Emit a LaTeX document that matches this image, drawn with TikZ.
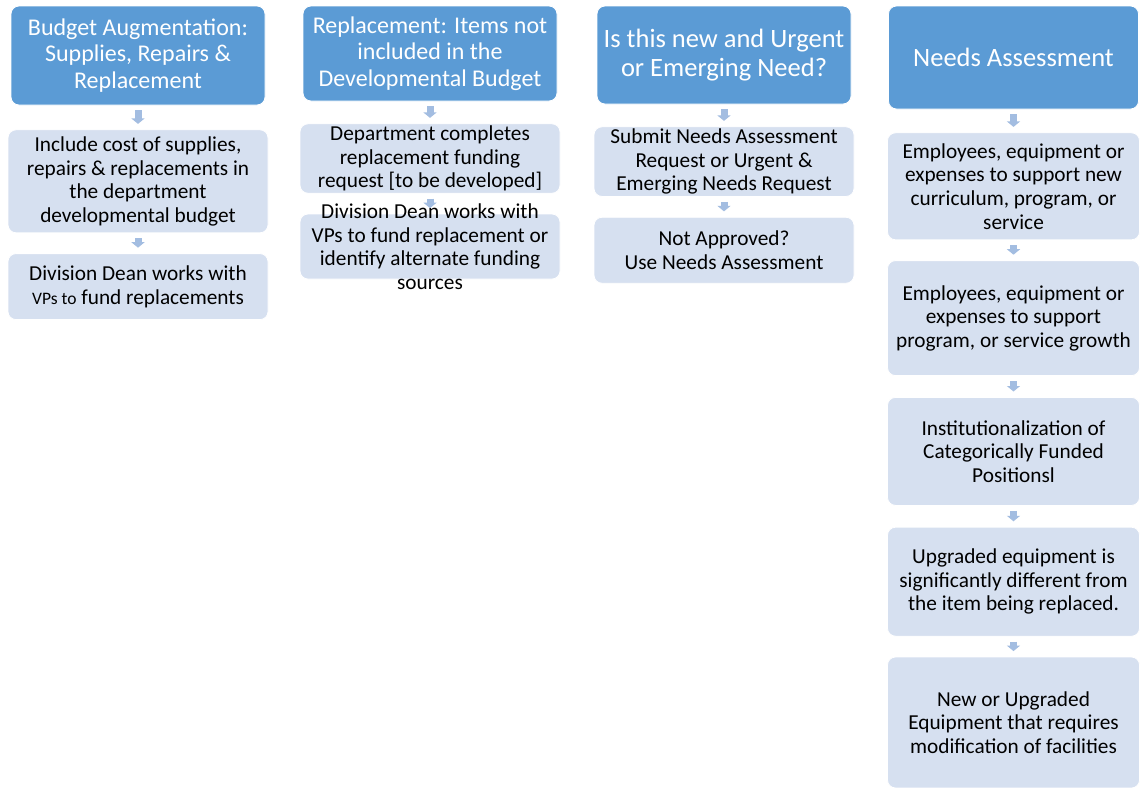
\documentclass[tikz,border=0pt]{standalone}
\usepackage{fontspec}
\setmainfont{Carlito}
\usetikzlibrary{positioning,arrows.meta}
\definecolor{HeadBlue}{RGB}{91,155,213}
\definecolor{ItemBlue}{RGB}{214,224,240}
\definecolor{ArrowBlue}{RGB}{163,189,225}
\newcommand\itemfont{\fontsize{21.3}{23.6}\selectfont}

\begin{document}
\begin{tikzpicture}[x=1pt, y=-1pt,
  every node/.style={align=center, inner sep=2pt},
  head/.style={draw=white, line width=0.8pt, fill=HeadBlue, text=white, rounded corners=8pt,
    minimum width=254pt, font=\fontsize{24}{26.5}\selectfont},
  bighead/.style={head, font=\fontsize{26.5}{29}\selectfont},
  item/.style={draw=white, line width=0.8pt, fill=ItemBlue, rounded corners=8pt,
    minimum width=260pt, font=\itemfont},
  flow/.style={-{Triangle[length=5.5pt,width=13pt]}, line width=7pt, ArrowBlue,
    shorten <=5pt, shorten >=5.5pt}]
  \path[use as bounding box, fill=white] (0,0) rectangle (1140,787);
  \clip (0,0) rectangle (1140,787);

  % budget augmentation
  \node[head, minimum height=99pt] (bud) at (138,55.5) {Budget Augmentation:\\ Supplies, Repairs \&\\ Replacement};
  \node[item, minimum height=103pt, below=24pt of bud] (bud1) {Include cost of supplies,\\ repairs \& replacements in\\ the department\\ developmental budget};
  \node[item, minimum height=66pt, below=20pt of bud1] (bud2) {Division Dean works with\\ {\fontsize{17.5}{20}\selectfont VPs to} fund replacements};

  % replacement outside the budget
  \node[head, minimum height=95pt] (rep) at (430,53.5) {Replacement: Items not\\ included in the\\ Developmental Budget};
  \node[item, minimum height=66pt, below=22pt of rep] (rep1) {Department completes\\ replacement funding\\ request [to be developed]};
  \node[item, minimum height=65pt, below=20pt of rep1,
    label={[font=\itemfont]center:Division Dean works with\\ VPs to fund replacement or\\ identify alternate funding\\ sources}] (rep2) {};

  % urgent and emerging needs
  \node[bighead, minimum height=98pt] (urg) at (724,55) {Is this new and Urgent\\ or Emerging Need?};
  \node[item, minimum height=66pt, below=22pt of urg] (urg1) {Submit Needs Assessment\\ Request or Urgent \&\\ Emerging Needs Request};
  \node[item, minimum height=66pt, below=20pt of urg1] (urg2) {Not Approved?\\ Use Needs Assessment};

  % needs assessment
  \node[bighead, minimum height=103pt, minimum width=250pt] (need) at (1013.5,57.5) {Needs Assessment};
  \node[item, minimum height=107pt, minimum width=252pt, below=23pt of need] (need1) {Employees, equipment or\\ expenses to support new\\ curriculum, program, or\\ service};
  \node[item, minimum height=115pt, minimum width=252pt, below=20pt of need1] (need2) {Employees, equipment or\\ expenses to support\\ program, or service growth};
  \node[item, minimum height=108pt, minimum width=252pt, below=21pt of need2] (need3) {Institutionalization of\\ Categorically Funded\\ Positionsl};
  \node[item, minimum height=109pt, minimum width=252pt, below=21pt of need3] (need4) {Upgraded equipment is\\ significantly different from\\ the item being replaced.};
  \node[item, minimum height=131pt, minimum width=252pt, below=20pt of need4] (need5) {New or Upgraded\\ Equipment that requires\\ modification of facilities};

  \draw[flow] (bud) -- (bud1);
  \draw[flow] (bud1) -- (bud2);
  \draw[flow] (rep) -- (rep1);
  \draw[flow] (rep1) -- (rep2);
  \draw[flow] (urg) -- (urg1);
  \draw[flow] (urg1) -- (urg2);
  \draw[flow] (need) -- (need1);
  \draw[flow] (need1) -- (need2);
  \draw[flow] (need2) -- (need3);
  \draw[flow] (need3) -- (need4);
  \draw[flow] (need4) -- (need5);
\end{tikzpicture}
\end{document}
